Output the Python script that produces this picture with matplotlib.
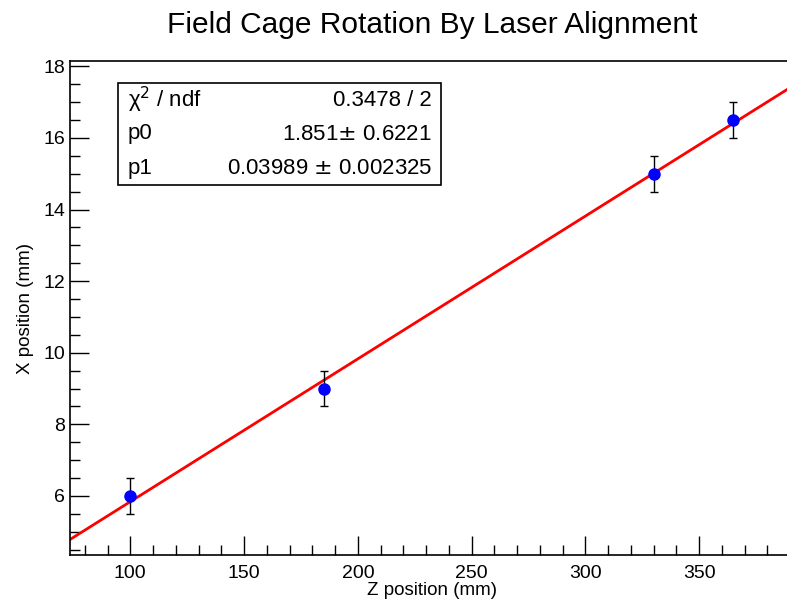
import numpy as np
import matplotlib.pyplot as plt
from matplotlib.ticker import MultipleLocator

plt.rcParams['font.family'] = ['Liberation Sans', 'DejaVu Sans']

# data points
z_pos = [100, 185, 330, 365]
x_pos = [6.0, 9.0, 15.0, 16.5]
x_err = [0.5, 0.5, 0.5, 0.5]

# fit results
chi2, ndf = 0.3478, 2
p0, p0_err = 1.851, 0.6221
p1, p1_err = 0.03989, 0.002325

xlim = (73.5, 391.5)
ylim = (4.35, 18.15)

fig = plt.figure(figsize=(7.87, 6.03), dpi=100)
ax = fig.add_axes([70 / 787, 48 / 603, 723.6 / 787, 494 / 603])

# fit line over whole axis range
xf = np.array(xlim)
ax.plot(xf, p0 + p1 * xf, color='red', lw=2, zorder=2)

ax.errorbar(z_pos, x_pos, yerr=x_err, fmt='none', ecolor='black', elinewidth=1,
            capsize=3, capthick=1, zorder=3)
ax.plot(z_pos, x_pos, 'o', color='blue', markersize=8, zorder=4)

ax.set_xlim(*xlim)
ax.set_ylim(*ylim)
ax.xaxis.set_major_locator(MultipleLocator(50))
ax.xaxis.set_minor_locator(MultipleLocator(10))
ax.yaxis.set_major_locator(MultipleLocator(2))
ax.yaxis.set_minor_locator(MultipleLocator(0.5))
ax.tick_params(which='both', direction='in', top=False, right=False, labelsize=14)
ax.tick_params(which='major', length=14, width=1)
ax.tick_params(which='minor', length=7, width=1)
ax.tick_params(axis='x', pad=7)
for s in ax.spines.values():
    s.set_linewidth(1.2)

ax.set_xlabel('Z position (mm)', fontsize=13.5, labelpad=0)
ax.set_ylabel('X position (mm)', fontsize=13.5, labelpad=7)
ax.set_title('Field Cage Rotation By Laser Alignment', fontsize=21.5, pad=20)

# stats box
bx0, by0 = 118 / 787, 1 - 185 / 603
bw, bh = (441 - 118) / 787, (185 - 83) / 603
box = plt.Rectangle((bx0, by0), bw, bh, transform=fig.transFigure, fill=True,
                    facecolor='white', edgecolor='black', lw=1.2, zorder=5)
fig.patches.append(box)
rows = ['χ$^{2}$ / ndf', 'p0', 'p1']
vals = [f'{chi2} / {ndf}', f'{p0}$\\pm$ {p0_err}', f'{p1} $\\pm$ {p1_err}']
row_y = [100, 134, 168]
for lab, val, yy in zip(rows, vals, row_y):
    fig.text(128 / 787, 1 - yy / 603, lab, fontsize=16, va='center', ha='left', zorder=6)
    fig.text(432 / 787, 1 - yy / 603, val, fontsize=16, va='center', ha='right', zorder=6)

fig.savefig('out.png', dpi=100)
